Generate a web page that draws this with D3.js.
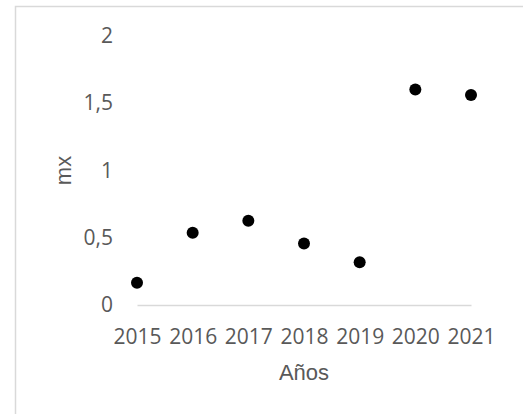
<!DOCTYPE html>
<html>
<head>
<meta charset="utf-8">
<script src="https://cdn.jsdelivr.net/npm/d3@7"></script>
<style>
  body { margin: 0; background: #fff; }
  svg { display: block; }
</style>
</head>
<body>
<div id="chart"></div>
<script>
// Data
var years = [2015, 2016, 2017, 2018, 2019, 2020, 2021];
var mxValues = [0.166, 0.537, 0.626, 0.458, 0.317, 1.603, 1.562];
var yTicks = [0, 0.5, 1, 1.5, 2];

var W = 523, H = 414;
var margin = {top: 36, right: 52, bottom: 109, left: 137};

var svg = d3.select("#chart")
  .append("svg")
    .attr("width", W)
    .attr("height", H);

// Chart frame
svg.append("rect")
  .attr("x", 15.5)
  .attr("y", 6.5)
  .attr("width", W)
  .attr("height", H)
  .attr("fill", "none")
  .attr("stroke", "#d9d9d9")
  .attr("stroke-width", 1.5);

var x = d3.scaleLinear()
  .domain([2015, 2021])
  .range([margin.left, W - margin.right]);

var y = d3.scaleLinear()
  .domain([0, 2])
  .range([H - margin.bottom, margin.top]);

var fmt = function(d) { return String(d).replace(".", ","); };

// X axis
var xAxis = svg.append("g")
  .attr("class", "x-axis")
  .attr("transform", "translate(0," + y(0) + ")")
  .call(d3.axisBottom(x).tickValues(years).tickFormat(d3.format("d")).tickSize(0).tickPadding(24));
xAxis.select(".domain").attr("stroke", "#d9d9d9").attr("stroke-width", 1.5);
xAxis.selectAll("text")
  .attr("fill", "#595959")
  .style("font-family", "'Open Sans', sans-serif")
  .style("font-size", "21px");

// Y axis
var yAxis = svg.append("g")
  .attr("class", "y-axis")
  .attr("transform", "translate(" + (margin.left - 24) + ",0)")
  .call(d3.axisLeft(y).tickValues(yTicks).tickFormat(fmt).tickSize(0).tickPadding(0));
yAxis.select(".domain").remove();
yAxis.selectAll("text")
  .attr("fill", "#595959")
  .style("font-family", "'Open Sans', sans-serif")
  .style("font-size", "21px");

// Axis titles
svg.append("text")
  .attr("x", (x(2015) + x(2021)) / 2)
  .attr("y", 380)
  .attr("text-anchor", "middle")
  .attr("fill", "#595959")
  .style("font-family", "'Liberation Sans', Arial, sans-serif")
  .style("font-size", "22px")
  .text("Años");

svg.append("text")
  .attr("transform", "translate(71," + y(1) + ") rotate(-90)")
  .attr("text-anchor", "middle")
  .attr("fill", "#595959")
  .style("font-family", "'Liberation Sans', Arial, sans-serif")
  .style("font-size", "22px")
  .text("mx");

// Points
svg.selectAll("circle")
  .data(years)
  .enter()
  .append("circle")
    .attr("cx", function(d) { return x(d); })
    .attr("cy", function(d, i) { return y(mxValues[i]); })
    .attr("r", 6)
    .attr("fill", "#000");
</script>
</body>
</html>
